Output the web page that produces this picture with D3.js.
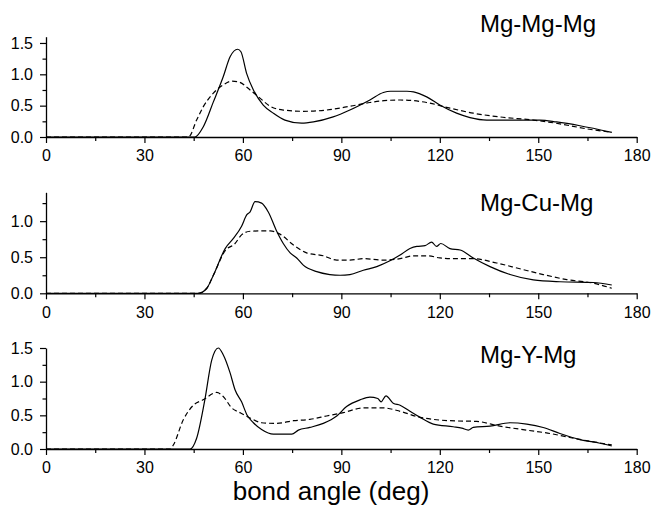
<!DOCTYPE html>
<html>
<head>
<meta charset="utf-8">
<script src="https://cdn.jsdelivr.net/npm/d3@7"></script>
<style>
  html, body { margin: 0; padding: 0; background: #fff; }
  svg { display: block; }
  text { font-family: "Liberation Sans", Arial, Helvetica, sans-serif; fill: #000; }
</style>
</head>
<body>
<svg id="chart" width="652" height="508"></svg>
<script>
// ---- data (bond angle in degrees, distribution value) ----
const panelNames = ["Mg-Mg-Mg", "Mg-Cu-Mg", "Mg-Y-Mg"];
const xTickValues = [0, 30, 60, 90, 120, 150, 180];
const xMinorTickValues = [15, 45, 75, 105, 135, 165];
const yMajorTicks = [[0, 0.5, 1.0, 1.5], [0, 0.5, 1.0], [0, 0.5, 1.0, 1.5]];
const yMinorTicks = [[0.25, 0.75, 1.25], [0.25, 0.75, 1.25], [0.25, 0.75, 1.25]];
const yMax = [1.6, 1.4, 1.5];

const mgMgMgSolid = [[0,0],[45.4,0],[47.9,0.16],[51,0.56],[54,0.96],[56.1,1.28],[58.4,1.40],[59.4,1.36],
  [61.1,1.02],[63.2,0.75],[66.2,0.51],[69.3,0.38],[72.8,0.27],[77.9,0.22],[81.5,0.24],[87.5,0.32],
  [92.6,0.43],[98.7,0.59],[102.8,0.71],[105,0.73],[107.9,0.73],[110,0.73],[112,0.72],[116,0.64],[120,0.51],
  [125.1,0.38],[129.2,0.31],[134.3,0.27],[141.4,0.27],[150.5,0.27],[155.6,0.24],[162.7,0.18],[172.4,0.075]];
const mgMgMgDashed = [[0,0],[43.4,0],[45.9,0.27],[47.9,0.48],[51,0.70],[54,0.83],[56.6,0.89],[58.6,0.88],
  [62.2,0.75],[65.2,0.62],[68.3,0.49],[72.3,0.43],[78.4,0.41],[85.5,0.43],[92.6,0.49],[98.7,0.55],
  [103,0.58],[107.9,0.59],[112,0.58],[116,0.55],[123.1,0.46],[130.2,0.38],[138.3,0.32],[148.5,0.27],
  [156.6,0.21],[164.8,0.13],[172.4,0.075]];

const mgCuMgSolid = [[0,0],[46.4,0],[49,0.07],[51,0.25],[54.6,0.62],[57.1,0.76],[59.6,0.93],[61.2,1.09],
  [62.2,1.13],[63.7,1.27],[65.7,1.25],[67.7,1.13],[70.3,0.86],[72.3,0.69],[74.4,0.56],[76.4,0.49],
  [78.4,0.39],[82.5,0.30],[86.5,0.26],[89.6,0.25],[92.6,0.26],[96.7,0.32],[100.8,0.37],[104.8,0.45],
  [107.9,0.53],[110.9,0.62],[113,0.65],[115.5,0.66],[117.5,0.71],[119,0.65],[120.3,0.69],[123.1,0.62],
  [126.2,0.60],[130.2,0.49],[135.3,0.37],[141.4,0.26],[148.5,0.185],[156.6,0.16],[166.8,0.15],[172.4,0.115]];
const mgCuMgDashed = [[0,0],[46.4,0],[49,0.07],[51,0.25],[54.6,0.59],[57.6,0.69],[59.6,0.81],[62.2,0.86],
  [65.2,0.865],[68.3,0.865],[71.3,0.82],[75.4,0.67],[79.4,0.56],[84.5,0.52],[88.6,0.46],[92.6,0.46],
  [96.7,0.48],[102.8,0.46],[107.9,0.48],[112,0.52],[116.5,0.52],[120,0.49],[125.1,0.48],[130.2,0.48],
  [137.3,0.42],[144.4,0.34],[151.5,0.26],[158.7,0.19],[166.8,0.14],[172.4,0.07]];

const mgYMgSolid = [[0,0],[43.9,0],[45.9,0.16],[48.4,0.73],[50.5,1.32],[52.5,1.50],[54,1.40],[56.1,1.13],
  [57.6,0.88],[59.6,0.70],[61.2,0.51],[63.2,0.39],[65.7,0.29],[69.3,0.22],[74.9,0.22],[76.9,0.28],
  [80.4,0.32],[84.5,0.38],[88.6,0.49],[91.6,0.63],[95.7,0.73],[98.7,0.77],[101.1,0.75],[102.1,0.70],
  [103.6,0.79],[105.8,0.68],[107.9,0.65],[110.9,0.56],[114,0.47],[118,0.37],[124.1,0.33],[126.7,0.31],
  [128.7,0.28],[130.2,0.32],[135.3,0.34],[141.4,0.39],[146.5,0.37],[151.5,0.32],[156.6,0.23],
  [162.7,0.14],[168.8,0.085],[172.4,0.045]];
const mgYMgDashed = [[0,0],[37.8,0],[38.8,0.06],[41.8,0.43],[44.9,0.65],[47.9,0.73],[52,0.84],[54,0.78],
  [56.6,0.61],[59.1,0.54],[62.2,0.46],[65.7,0.39],[70.3,0.38],[75.4,0.42],[80.4,0.44],[85.5,0.49],
  [90.6,0.54],[96.7,0.61],[102.8,0.61],[107.9,0.56],[114,0.47],[118,0.44],[123.1,0.42],[131.2,0.41],
  [138.3,0.34],[146.5,0.28],[153.6,0.23],[160.7,0.16],[168.8,0.09],[172.4,0.06]];

const solidSeries = [mgMgMgSolid, mgCuMgSolid, mgYMgSolid];
const dashedSeries = [mgMgMgDashed, mgCuMgDashed, mgYMgDashed];
const xAxisTitle = "bond angle (deg)";

// ---- layout ----
const plotLeft = 46, plotRight = 636.7;
const panelTop = [36.7, 192.3, 348];
const panelBottom = [137, 293.3, 449];
const titleBaseline = [32, 211, 362.7];
const titleX = 480;

const svg = d3.select("#chart");
const x = d3.scaleLinear().domain([0, 180]).range([plotLeft, plotRight]);
const fmt = d3.format(".1f");

panelNames.forEach((name, i) => {
  const y = d3.scaleLinear().domain([0, yMax[i]]).range([panelBottom[i], panelTop[i]]);
  const g = svg.append("g");

  g.append("g").attr("transform", `translate(0,${panelBottom[i]})`)
    .call(d3.axisBottom(x).tickValues(xTickValues).tickFormat(d3.format("d"))
      .tickSizeInner(6).tickSizeOuter(0).tickPadding(7));
  g.append("g").attr("transform", `translate(0,${panelBottom[i]})`)
    .call(d3.axisBottom(x).tickValues(xMinorTickValues).tickFormat("").tickSizeInner(4).tickSizeOuter(0))
    .select(".domain").remove();

  g.append("g").attr("transform", `translate(${plotLeft},0)`)
    .call(d3.axisLeft(y).tickValues(yMajorTicks[i]).tickFormat(fmt)
      .tickSizeInner(6).tickSizeOuter(0).tickPadding(7));
  g.append("g").attr("transform", `translate(${plotLeft},0)`)
    .call(d3.axisLeft(y).tickValues(yMinorTicks[i]).tickFormat("").tickSizeInner(3.5).tickSizeOuter(0))
    .select(".domain").remove();

  g.selectAll(".domain").attr("stroke", "#000").attr("stroke-width", 1.3);
  g.selectAll(".tick line").attr("stroke", "#000").attr("stroke-width", 1.2);
  g.selectAll(".tick text").attr("font-size", "16px")
    .attr("font-family", "'Liberation Sans', Arial, sans-serif").attr("fill", "#000");

  const line = d3.line().x(d => x(d[0])).y(d => y(d[1])).curve(d3.curveMonotoneX);

  g.append("path").datum(dashedSeries[i]).attr("d", line)
    .attr("fill", "none").attr("stroke", "#000").attr("stroke-width", 1.2)
    .attr("stroke-dasharray", "5,3");
  g.append("path").datum(solidSeries[i]).attr("d", line)
    .attr("fill", "none").attr("stroke", "#000").attr("stroke-width", 1.2);

  g.append("text").attr("x", titleX).attr("y", titleBaseline[i])
    .attr("font-size", "24px").text(name);
});

svg.append("text").attr("x", 331).attr("y", 500).attr("text-anchor", "middle")
  .attr("font-size", "26px").text(xAxisTitle);
</script>
</body>
</html>
